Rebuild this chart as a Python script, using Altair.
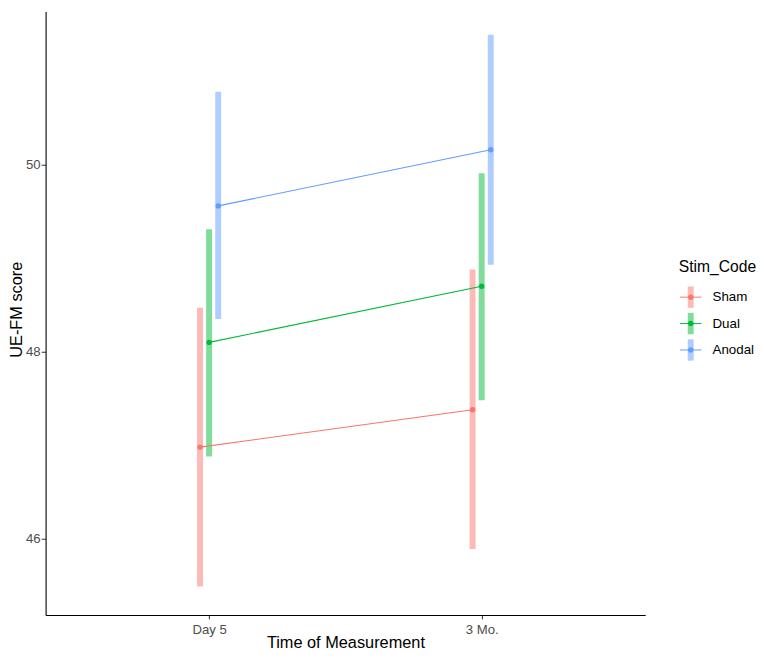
import json
import altair as alt
import pandas as pd

# ---- data ----
times = ["Day 5", "3 Mo."]
stim_codes = ["Sham", "Dual", "Anodal"]
colors = ["#F8766D", "#00BA38", "#619CFF"]

mean_sham = [46.98, 47.38]
mean_dual = [48.10, 48.70]
mean_anodal = [49.56, 50.16]

lo_sham = [45.49, 45.89]
lo_dual = [46.88, 47.48]
lo_anodal = [48.35, 48.93]

hi_sham = [48.47, 48.88]
hi_dual = [49.31, 49.91]
hi_anodal = [50.78, 51.39]

y_ticks = [46, 48, 50]

means = [mean_sham, mean_dual, mean_anodal]
los = [lo_sham, lo_dual, lo_anodal]
his = [hi_sham, hi_dual, hi_anodal]

rows = []
for i, s in enumerate(stim_codes):
    for j, t in enumerate(times):
        rows.append({"Stim": s, "Time": t, "t_idx": j + 1, "s_idx": i,
                     "mean": means[i][j], "lo": los[i][j], "hi": his[i][j]})
df = pd.DataFrame(rows)

FONT = "Liberation Sans"
DODGE = 0.1 / 3

label_expr = json.dumps(times) + "[datum.value - 1]"

base = alt.Chart(df).transform_calculate(
    xpos=f"datum.t_idx + (datum.s_idx - 1) * {DODGE}",
    StimL="datum.Stim",
    StimP="datum.Stim",
)

x_enc = alt.X(
    "xpos:Q",
    scale=alt.Scale(domain=[0.4, 2.6], nice=False, zero=False),
    axis=alt.Axis(values=[1, 2], labelExpr=label_expr, title="Time of Measurement",
                  titleY=32.5, titleBaseline="alphabetic", labelPadding=4),
)
y_scale = alt.Scale(domain=[45.185, 51.64], nice=False, zero=False)
y_axis = alt.Axis(values=y_ticks, format="d", title="UE-FM score",
                  titleX=-24.5, titleY=301, titleBaseline="alphabetic",
                  labelPadding=1, tickSize=4.5)

LX, LY = 640, 251
common_legend = dict(orient="none", legendX=LX, legendY=LY, title="Stim_Code",
                     titleFontSize=15.8, titleFont=FONT, titleFontWeight="normal",
                     titleColor="black", labelFontSize=13.5, labelFont=FONT,
                     labelColor="black", padding=0, rowPadding=2.7, titlePadding=10,
                     labelOffset=10, clipHeight=24)

bars = base.mark_rule(strokeWidth=6, opacity=0.5, strokeCap="butt").encode(
    x=x_enc,
    y=alt.Y("lo:Q", scale=y_scale, axis=y_axis),
    y2="hi:Q",
    color=alt.Color("Stim:N", sort=stim_codes,
                    scale=alt.Scale(range=colors),
                    legend=alt.Legend(symbolType="M0,-1.2V1.2", symbolSize=324,
                                      symbolStrokeWidth=6, symbolOpacity=0.5,
                                      zindex=1, **common_legend)),
)

lines = base.mark_line(strokeWidth=1.1).encode(
    x=x_enc,
    y=alt.Y("mean:Q", scale=y_scale),
    stroke=alt.Stroke("StimL:N", sort=stim_codes,
                      scale=alt.Scale(range=colors),
                      legend=alt.Legend(symbolType="M-0.95,0H0.95", symbolSize=529,
                                        symbolStrokeWidth=1, labelOpacity=0,
                                        titleOpacity=0, zindex=2, **common_legend)),
    order="xpos:Q",
)

circle_path = "M0.23,0A0.23,0.23,0,1,1,-0.23,0A0.23,0.23,0,1,1,0.23,0Z"
points = base.mark_circle(size=30, opacity=1).encode(
    x=x_enc,
    y=alt.Y("mean:Q", scale=y_scale),
    fill=alt.Fill("StimP:N", sort=stim_codes,
                  scale=alt.Scale(range=colors),
                  legend=alt.Legend(symbolType=circle_path, symbolSize=576,
                                    symbolStrokeWidth=0, labelOpacity=0,
                                    titleOpacity=0, zindex=3, **common_legend)),
)

chart = alt.layer(bars, lines, points).properties(
    width=606, height=610,
    autosize=alt.AutoSizeParams(type="none"),
    padding={"left": 38, "top": 0, "right": 113, "bottom": 33},
).configure_view(stroke=None).configure_axis(
    grid=False,
    domainColor="black",
    domainWidth=1.1,
    tickColor="#333333",
    tickSize=4,
    labelColor="#4D4D4D",
    labelFont=FONT,
    labelFontSize=13.3,
    titleFont=FONT,
    titleFontSize=16.5,
    titleFontWeight="normal",
    titleColor="black",
)

chart.save("out.html", embed_options={"renderer": "svg", "actions": False})
